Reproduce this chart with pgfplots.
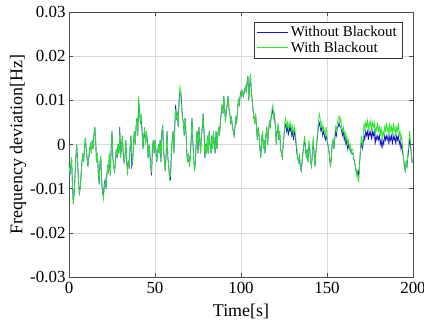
\documentclass[border=0pt]{standalone}
\usepackage{fontspec}
\setmainfont{Liberation Serif}
\usepackage{pgfplots}
\pgfplotsset{compat=1.18}
\definecolor{myblue}{RGB}{20,20,200}
\definecolor{mygreen}{RGB}{45,230,45}
\begin{document}
\begin{tikzpicture}
\begin{axis}[
  scale only axis, width=344bp, height=265bp,
  xmin=0, xmax=200, ymin=-0.03, ymax=0.03,
  xtick={0,50,100,150,200}, xticklabels={0,50,100,150,200},
  ytick={-0.03,-0.02,-0.01,0,0.01,0.02,0.03},
  yticklabels={-0.03,-0.02,-0.01,0,0.01,0.02,0.03},
  scaled y ticks=false, scaled x ticks=false,
  tick label style={font=\fontsize{17}{17}\selectfont},
  xticklabel style={yshift=-2bp},
  xlabel={Time[s]}, ylabel={Frequency deviation[Hz]},
  every axis x label/.style={at={(axis description cs:0.5,-0.132)}, anchor=center, font=\fontsize{18}{18}\selectfont},
  every axis y label/.style={at={(axis description cs:-0.148,0.5)}, anchor=center, rotate=90, font=\fontsize{18}{18}\selectfont},
  grid=major, grid style={black!15, line width=0.5bp},
  axis line style={black!70, line width=0.6bp},
  tick style={black!70, line width=0.6bp},
  tick align=inside, major tick length=4bp,
  legend cell align=left,
  legend style={at={(1,1)}, anchor=north east, xshift=-11bp, yshift=-10bp,
    draw=black!80, fill=white, font=\fontsize{15}{15}\selectfont},
]
\addlegendimage{legend image code/.code={\draw[draw=myblue, line width=1bp] (0bp,0bp) -- (31bp,0bp);}}
\addlegendentry{Without Blackout}
\addlegendimage{legend image code/.code={\draw[draw=mygreen, line width=1bp] (0bp,0bp) -- (31bp,0bp);}}
\addlegendentry{With Blackout}
\addplot[myblue, line width=0.7bp, forget plot] coordinates {
(0,-0.004)(0.5,-0.007)(1,-0.005)(1.5,-0.003)(2,-0.009)(2.5,-0.0135)(3,-0.011)(3.5,-0.007)(4,-0.003)(4.5,0.000)
(5,-0.004)(5.5,-0.008)(6,-0.011)(6.5,-0.010)(7,-0.007)(7.5,-0.004)(8,-0.002)(8.5,-0.004)(9,-0.001)(9.5,0.0015)
(10,-0.001)(10.5,-0.003)(11,-0.005)(11.5,-0.003)(12,-0.001)(12.5,0.000)(13,-0.002)(13.5,0.001)(14,-0.001)(14.5,0.002)
(15,0.004)(15.5,0.001)(16,-0.004)(16.5,-0.002)(17,-0.006)(17.5,-0.009)(18,-0.004)(18.5,-0.003)(19,-0.008)(19.5,-0.011)
(20,-0.0115)(20.5,-0.009)(21,-0.008)(21.5,-0.010)(22,-0.007)(22.5,-0.005)(23,-0.006)(23.5,-0.002)(24,-0.007)(24.5,-0.001)
(25,0.003)(25.5,-0.003)(26,-0.005)(26.5,-0.006)(27,-0.004)(27.5,-0.001)(28,-0.003)(28.5,0.000)(29,-0.002)(29.5,0.004)
(30,-0.003)(30.5,-0.001)(31,0.002)(31.5,-0.002)(32,-0.004)(32.5,-0.003)(33,0.001)(33.5,-0.003)(34,-0.006)(34.5,-0.004)
(35,-0.005)(35.5,-0.001)(36,0.002)(36.5,-0.005)(37,-0.004)(37.5,0.000)(38,0.003)(38.5,0.000)(39,0.004)(39.5,0.006)
(40,0.002)(40.5,0.010)(41,0.008)(41.5,0.005)(42,0.006)(42.5,0.003)(43,-0.001)(43.5,0.002)(44,0.003)(44.5,0.000)
(45,0.003)(45.5,0.001)(46,-0.003)(46.5,0.000)(47,-0.002)(47.5,-0.005)(48,-0.007)(48.5,-0.001)(49,0.001)(49.5,-0.002)
(50,0.001)(50.5,-0.001)(51,-0.004)(51.5,-0.002)(52,0.000)(52.5,-0.002)(53,0.001)(53.5,-0.004)(54,0.003)(54.5,0.004)
(55,-0.001)(55.5,-0.004)(56,-0.006)(56.5,-0.002)(57,0.003)(57.5,-0.003)(58,-0.005)(58.5,-0.008)(59,-0.008)(59.5,-0.002)
(60,0.001)(60.5,0.003)(61,-0.002)(61.5,0.004)(62,0.009)(62.5,0.006)(63,0.007)(63.5,0.004)(64,0.010)(64.5,0.012)
(65,0.012)(65.5,0.009)(66,0.006)(66.5,0.005)(67,0.002)(67.5,0.006)(68,0.003)(68.5,-0.002)(69,-0.004)(69.5,-0.002)
(70,-0.005)(70.5,-0.003)(71,0.001)(71.5,0.006)(72,0.001)(72.5,-0.003)(73,-0.006)(73.5,-0.004)(74,0.001)(74.5,0.003)
(75,-0.002)(75.5,0.004)(76,0.001)(76.5,-0.002)(77,0.002)(77.5,0.004)(78,0.007)(78.5,0.003)(79,-0.003)(79.5,0.000)
(80,-0.002)(80.5,0.002)(81,-0.002)(81.5,0.003)(82,0.000)(82.5,-0.002)(83,0.002)(83.5,-0.001)(84,0.003)(84.5,0.000)
(85,-0.002)(85.5,0.003)(86,-0.001)(86.5,0.002)(87,0.004)(87.5,0.002)(88,0.005)(88.5,0.007)(89,0.009)(89.5,0.007)
(90,0.011)(90.5,0.008)(91,0.005)(91.5,0.008)(92,0.009)(92.5,0.011)(93,0.008)(93.5,0.007)(94,0.005)(94.5,0.006)
(95,0.004)(95.5,0.003)(96,0.002)(96.5,0.004)(97,0.006)(97.5,0.005)(98,0.008)(98.5,0.010)(99,0.009)(99.5,0.011)
(100,0.012)(100.5,0.011)(101,0.012)(101.5,0.011)(102,0.012)(102.5,0.013)(103,0.012)(103.5,0.014)(104,0.0155)(104.5,0.010)
(105,0.013)(105.5,0.016)(106,0.012)(106.5,0.010)(107,0.008)(107.5,0.006)(108,0.005)(108.5,0.007)(109,0.004)(109.5,0.001)
(110,0.004)(110.5,0.002)(111,-0.001)(111.5,-0.003)(112,0.001)(112.5,0.003)(113,-0.001)(113.5,0.001)(114,-0.002)(114.5,0.002)
(115,0.004)(115.5,0.000)(116,0.003)(116.5,0.005)(117,0.004)(117.5,0.006)(118,0.007)(118.5,0.008)(119,0.006)(119.5,0.006)
(120,0.004)(120.5,0.000)(121,0.003)(121.5,0.004)(122,0.001)(122.5,0.003)(123,-0.001)(123.5,-0.002)(124,-0.003)(124.5,0.000)
(125,0.002)(125.5,0.004)(126,0.0045)(126.5,0.003)(127,0.004)(127.5,0.002)(128,0.004)(128.5,0.003)(129,0.004)(129.5,0.002)
(130,0.003)(130.5,0.001)(131,0.003)(131.5,0.002)(132,0.000)(132.5,-0.002)(133,-0.003)(133.5,-0.004)(134,-0.003)(134.5,-0.005)
(135,-0.006)(135.5,-0.004)(136,-0.002)(136.5,0.000)(137,0.001)(137.5,-0.001)(138,-0.003)(138.5,-0.001)(139,-0.004)(139.5,0.000)
(140,-0.001)(140.5,-0.004)(141,-0.005)(141.5,-0.002)(142,0.001)(142.5,-0.002)(143,-0.005)(143.5,-0.002)(144,0.000)(144.5,0.002)
(145,0.004)(145.5,0.005)(146,0.004)(146.5,0.003)(147,0.004)(147.5,0.002)(148,0.003)(148.5,0.002)(149,0.001)(149.5,0.002)
(150,0.001)(150.5,0.000)(151,-0.001)(151.5,-0.003)(152,-0.005)(152.5,-0.003)(153,0.000)(153.5,0.001)(154,-0.001)(154.5,0.001)
(155,0.003)(155.5,0.002)(156,0.004)(156.5,0.004)(157,0.005)(157.5,0.004)(158,0.004)(158.5,0.003)(159,0.002)(159.5,0.003)
(160,0.001)(160.5,0.002)(161,0.000)(161.5,0.001)(162,-0.001)(162.5,0.000)(163,-0.001)(163.5,-0.001)(164,-0.002)(164.5,-0.002)
(165,-0.002)(165.5,-0.003)(166,-0.004)(166.5,-0.005)(167,-0.006)(167.5,-0.007)(168,-0.006)(168.5,-0.007)(169,-0.004)(169.5,-0.001)
(170,0.001)(170.5,-0.001)(171,0.000)(171.5,0.002)(172,0.001)(172.5,0.003)(173,0.002)(173.5,0.003)(174,0.001)(174.5,0.003)
(175,0.002)(175.5,0.003)(176,0.001)(176.5,0.003)(177,0.002)(177.5,0.003)(178,0.000)(178.5,0.002)(179,0.001)(179.5,0.002)
(180,0.001)(180.5,0.002)(181,0.000)(181.5,0.001)(182,-0.001)(182.5,0.001)(183,0.000)(183.5,0.002)(184,0.001)(184.5,0.002)
(185,0.001)(185.5,0.002)(186,0.000)(186.5,0.002)(187,0.001)(187.5,0.002)(188,0.000)(188.5,0.002)(189,0.001)(189.5,0.002)
(190,0.000)(190.5,0.002)(191,0.001)(191.5,0.002)(192,0.000)(192.5,0.001)(193,-0.001)(193.5,0.000)(194,-0.002)(194.5,-0.003)
(195,-0.005)(195.5,-0.006)(196,-0.004)(196.5,-0.005)(197,-0.003)(197.5,-0.001)(198,0.001)(198.5,0.000)(199,-0.002)(199.5,-0.004)
(200,-0.004)
};
\addplot[mygreen, line width=0.7bp, forget plot] coordinates {
(0,-0.004)(0.5,-0.007)(1,-0.005)(1.5,-0.003)(2,-0.009)(2.5,-0.0135)(3,-0.011)(3.5,-0.007)(4,-0.003)(4.5,0.000)
(5,-0.004)(5.5,-0.008)(6,-0.011)(6.5,-0.010)(7,-0.007)(7.5,-0.004)(8,-0.002)(8.5,-0.004)(9,-0.001)(9.5,0.0015)
(10,-0.001)(10.5,-0.003)(11,-0.005)(11.5,-0.003)(12,-0.001)(12.5,0.000)(13,-0.002)(13.5,0.001)(14,-0.001)(14.5,0.002)
(15,0.004)(15.5,0.001)(16,-0.004)(16.5,-0.002)(17,-0.006)(17.5,-0.009)(18,-0.004)(18.5,-0.003)(19,-0.008)(19.5,-0.011)
(20,-0.0125)(20.5,-0.010)(21,-0.008)(21.5,-0.010)(22,-0.007)(22.5,-0.005)(23,-0.006)(23.5,-0.002)(24,-0.007)(24.5,-0.001)
(25,0.003)(25.5,-0.003)(26,-0.005)(26.5,-0.006)(27,-0.004)(27.5,-0.001)(28,-0.003)(28.5,0.000)(29,-0.002)(29.5,0.003)
(30,-0.003)(30.5,-0.001)(31,0.002)(31.5,-0.002)(32,-0.004)(32.5,-0.003)(33,0.001)(33.5,-0.003)(34,-0.007)(34.5,-0.004)
(35,-0.005)(35.5,-0.001)(36,0.002)(36.5,-0.003)(37,-0.004)(37.5,0.000)(38,0.003)(38.5,0.000)(39,0.004)(39.5,0.006)
(40,0.002)(40.5,0.011)(41,0.008)(41.5,0.005)(42,0.007)(42.5,0.003)(43,-0.001)(43.5,0.002)(44,0.004)(44.5,0.000)
(45,0.003)(45.5,0.001)(46,-0.003)(46.5,0.000)(47,-0.002)(47.5,-0.005)(48,-0.006)(48.5,-0.001)(49,0.001)(49.5,-0.002)
(50,0.001)(50.5,-0.001)(51,-0.004)(51.5,-0.002)(52,0.000)(52.5,-0.002)(53,0.001)(53.5,-0.004)(54,0.003)(54.5,0.004)
(55,-0.001)(55.5,-0.004)(56,-0.006)(56.5,-0.002)(57,0.003)(57.5,-0.003)(58,-0.005)(58.5,-0.008)(59,-0.007)(59.5,-0.002)
(60,0.001)(60.5,0.003)(61,-0.002)(61.5,0.004)(62,0.008)(62.5,0.006)(63,0.007)(63.5,0.004)(64,0.010)(64.5,0.0135)
(65,0.011)(65.5,0.008)(66,0.006)(66.5,0.005)(67,0.002)(67.5,0.006)(68,0.003)(68.5,-0.002)(69,-0.004)(69.5,-0.002)
(70,-0.005)(70.5,-0.003)(71,0.001)(71.5,0.006)(72,0.001)(72.5,-0.003)(73,-0.006)(73.5,-0.004)(74,0.001)(74.5,0.003)
(75,-0.002)(75.5,0.004)(76,0.001)(76.5,-0.002)(77,0.002)(77.5,0.004)(78,0.007)(78.5,0.003)(79,-0.003)(79.5,0.000)
(80,-0.002)(80.5,0.002)(81,-0.002)(81.5,0.003)(82,0.000)(82.5,-0.002)(83,0.002)(83.5,-0.001)(84,0.003)(84.5,0.000)
(85,-0.002)(85.5,0.003)(86,-0.001)(86.5,0.002)(87,0.004)(87.5,0.002)(88,0.005)(88.5,0.007)(89,0.009)(89.5,0.007)
(90,0.011)(90.5,0.008)(91,0.005)(91.5,0.008)(92,0.009)(92.5,0.011)(93,0.008)(93.5,0.007)(94,0.005)(94.5,0.006)
(95,0.004)(95.5,0.003)(96,0.002)(96.5,0.004)(97,0.006)(97.5,0.005)(98,0.008)(98.5,0.010)(99,0.009)(99.5,0.011)
(100,0.012)(100.5,0.011)(101,0.012)(101.5,0.011)(102,0.012)(102.5,0.013)(103,0.012)(103.5,0.014)(104,0.0155)(104.5,0.010)
(105,0.013)(105.5,0.016)(106,0.012)(106.5,0.010)(107,0.008)(107.5,0.006)(108,0.005)(108.5,0.007)(109,0.004)(109.5,0.001)
(110,0.004)(110.5,0.002)(111,-0.001)(111.5,-0.003)(112,0.001)(112.5,0.003)(113,-0.001)(113.5,0.001)(114,-0.002)(114.5,0.002)
(115,0.004)(115.5,0.000)(116,0.003)(116.5,0.005)(117,0.004)(117.5,0.006)(118,0.008)(118.5,0.009)(119,0.006)(119.5,0.007)
(120,0.004)(120.5,0.000)(121,0.003)(121.5,0.005)(122,0.001)(122.5,0.003)(123,-0.001)(123.5,-0.002)(124,-0.003)(124.5,0.000)
(125,0.002)(125.5,0.005)(126,0.006)(126.5,0.004)(127,0.005)(127.5,0.003)(128,0.005)(128.5,0.004)(129,0.005)(129.5,0.003)
(130,0.004)(130.5,0.002)(131,0.004)(131.5,0.003)(132,0.001)(132.5,-0.001)(133,-0.003)(133.5,-0.004)(134,-0.002)(134.5,-0.005)
(135,-0.006)(135.5,-0.004)(136,-0.002)(136.5,0.000)(137,0.002)(137.5,-0.001)(138,-0.003)(138.5,-0.001)(139,-0.004)(139.5,0.001)
(140,-0.001)(140.5,-0.004)(141,-0.005)(141.5,-0.002)(142,0.002)(142.5,-0.002)(143,-0.005)(143.5,-0.002)(144,0.000)(144.5,0.003)
(145,0.005)(145.5,0.007)(146,0.006)(146.5,0.004)(147,0.005)(147.5,0.003)(148,0.004)(148.5,0.003)(149,0.002)(149.5,0.004)
(150,0.002)(150.5,0.000)(151,-0.001)(151.5,-0.003)(152,-0.005)(152.5,-0.003)(153,0.000)(153.5,0.001)(154,-0.001)(154.5,0.002)
(155,0.004)(155.5,0.003)(156,0.005)(156.5,0.006)(157,0.0065)(157.5,0.005)(158,0.006)(158.5,0.004)(159,0.003)(159.5,0.004)
(160,0.002)(160.5,0.003)(161,0.001)(161.5,0.002)(162,0.000)(162.5,0.001)(163,-0.001)(163.5,0.000)(164,-0.002)(164.5,-0.001)
(165,-0.001)(165.5,-0.003)(166,-0.004)(166.5,-0.005)(167,-0.007)(167.5,-0.006)(168,-0.008)(168.5,-0.0085)(169,-0.004)(169.5,-0.001)
(170,0.002)(170.5,0.000)(171,0.001)(171.5,0.005)(172,0.003)(172.5,0.005)(173,0.004)(173.5,0.0055)(174,0.003)(174.5,0.005)
(175,0.004)(175.5,0.0055)(176,0.003)(176.5,0.005)(177,0.004)(177.5,0.005)(178,0.002)(178.5,0.004)(179,0.003)(179.5,0.005)
(180,0.003)(180.5,0.004)(181,0.002)(181.5,0.004)(182,0.001)(182.5,0.003)(183,0.002)(183.5,0.004)(184,0.003)(184.5,0.005)
(185,0.003)(185.5,0.004)(186,0.002)(186.5,0.005)(187,0.003)(187.5,0.004)(188,0.002)(188.5,0.005)(189,0.003)(189.5,0.004)
(190,0.002)(190.5,0.004)(191,0.003)(191.5,0.005)(192,0.002)(192.5,0.003)(193,0.001)(193.5,0.002)(194,-0.001)(194.5,-0.003)
(195,-0.005)(195.5,-0.006)(196,-0.004)(196.5,-0.005)(197,-0.002)(197.5,0.000)(198,0.003)(198.5,0.001)(199,-0.002)(199.5,-0.004)
(200,-0.004)
};
\end{axis}
\pgfresetboundingbox
\path[use as bounding box] ([xshift=-69bp,yshift=-47bp]current axis.south west) rectangle ([xshift=11bp,yshift=12bp]current axis.north east);
\end{tikzpicture}
\end{document}
